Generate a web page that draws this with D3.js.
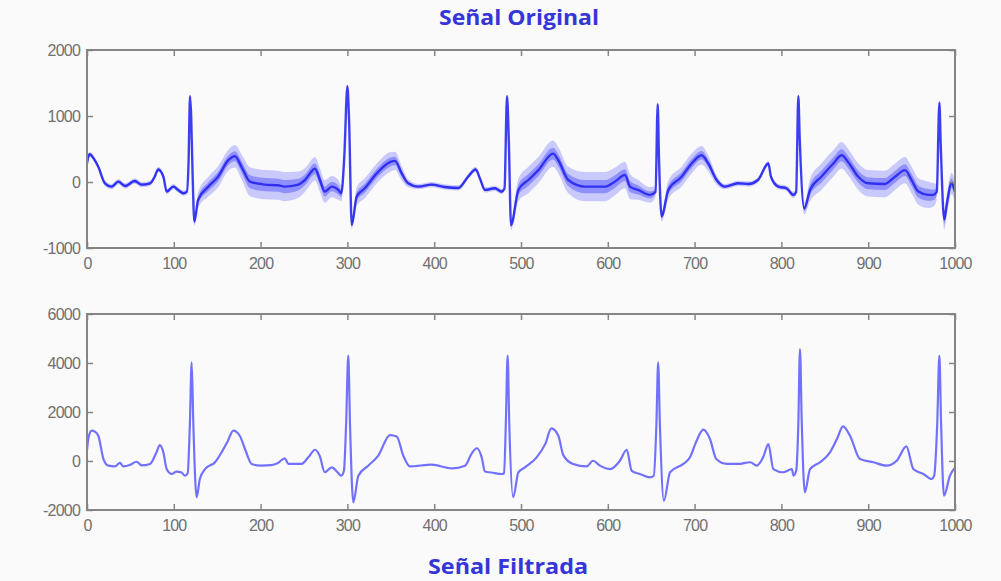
<!DOCTYPE html>
<html>
<head>
<meta charset="utf-8">
<script src="https://cdn.jsdelivr.net/npm/d3@7"></script>
<style>
  body { margin: 0; background: #fafafa; }
  svg { display: block; }
</style>
</head>
<body>
<div id="chart"></div>
<script>
// ---- data ----
var xTicks = [0, 100, 200, 300, 400, 500, 600, 700, 800, 900, 1000];
var topTicks = [-1000, 0, 1000, 2000];
var bottomTicks = [-2000, 0, 2000, 4000, 6000];

// original (noisy) signal: sample index, centre value, half width of the noise band
var origTime = [0, 1.5, 3, 8, 13, 20.7, 28.5, 36, 44, 55, 63, 72.6, 78, 82, 88, 91.8, 99.5, 105, 111, 115,
  117, 118.7, 120, 121.5, 123.7, 128, 139.8, 151, 162.8, 170.5, 178, 187.8, 205, 220, 227.5, 243.4, 251,
  262.7, 268.4, 274, 282, 289.5, 293, 296.4, 300, 302, 305, 310.7, 320, 333.8, 349, 354.8, 362.6, 370,
  381.7, 397, 412, 427.8, 439, 447.8, 452.8, 458.5, 470, 477.7, 481, 483.9, 486, 488.5, 497, 508.4, 520,
  537, 543, 554.5, 573.7, 596.8, 608, 619.8, 625.6, 635, 648.6, 655, 657.5, 659, 662, 669.7, 685, 696.6,
  708, 715.8, 725.4, 735, 750, 762, 773, 785, 788, 796.4, 806, 813.7, 817, 819.5, 821, 826.4, 833, 846,
  859.8, 869.4, 877, 888.6, 900, 919, 930.9, 942.4, 950, 957.8, 969.3, 975, 979, 982, 983.7, 987.6,
  990.4, 996, 1000];
var origValue = [280, 380, 420, 350, 230, -20, -70, 5, -60, 15, -40, -20, 80, 190, 80, -145, -70, -120, -170, -150,
  300, 1300, 1000, 200, -600, -270, -70, 80, 330, 390, 230, 5, -40, -50, -70, -40, 30,
  200, 30, -145, -70, -120, -170, 380, 1450, 900, -650, -220, -95, 130, 300, 320, 130, -20,
  -70, -40, -75, -90, 80, 190, 50, -120, -95, -145, -100, 1300, 600, -650, -120, 30, 180,
  430, 330, 30, -70, -70, 5, 105, -70, -120, -195, -150, 1180, 350, -520, -120, 80, 280,
  405, 280, 30, -70, -20, -30, 30, 280, 80, -70, -95, -195, -150, 1300, 700, -400, -120, 80,
  280, 405, 300, 80, -20, -30, 80, 180, 30, -145, -195, -195, -150, 1200, 500, -570,
  -350, -20, -150];
var origSpread = [40, 40, 40, 40, 40, 40, 40, 40, 40, 40, 40, 40, 40, 40, 40, 40, 40, 40, 40, 40,
  30, 30, 30, 30, 60, 120, 150, 160, 160, 170, 190, 220, 220, 220, 220, 200, 180,
  180, 180, 170, 160, 150, 120, 40, 40, 40, 60, 140, 150, 150, 150, 140, 110, 60,
  40, 40, 40, 40, 40, 40, 40, 40, 40, 40, 30, 30, 30, 80, 170, 200, 200,
  200, 200, 200, 220, 220, 210, 200, 190, 150, 120, 80, 30, 30, 80, 140, 150, 150,
  140, 120, 70, 40, 40, 40, 40, 40, 40, 40, 40, 50, 40, 30, 30, 90, 170, 200,
  200, 200, 200, 200, 200, 200, 200, 200, 200, 200, 200, 180, 120, 40, 60, 150,
  160, 160, 160];

// filtered signal: sample index and value
var filtTime = [0, 2, 5.4, 9, 13, 19, 24.5, 32, 38, 41.9, 50, 57, 63, 72.6, 80, 84, 88, 91.8, 97.6, 103, 109,
  113, 116, 118.5, 120.6, 122.5, 126.3, 130, 136, 147.5, 155, 162, 168.6, 176, 182, 189.7, 201, 212, 220,
  228, 232, 247, 255, 262.7, 268, 274, 282, 288.6, 293, 296, 298.5, 301, 303, 306.8, 312.6, 324, 335.6,
  349, 356.8, 364.4, 372, 397, 420, 435.5, 443, 449, 454.7, 458.5, 466, 477.7, 480.5, 482.5, 484.6, 486.5,
  491, 497, 504.6, 518, 528, 535, 543, 548.7, 560, 575.6, 583, 591, 602.5, 614, 621.8, 627.5, 637, 648.6,
  653, 656, 658, 660, 664.7, 671.7, 687, 694.7, 702, 710, 717.7, 725, 737, 750, 764, 771.5, 779, 785,
  790.7, 802, 812, 814, 817, 819.5, 821.4, 823.5, 827, 833, 844.5, 856, 864, 871, 879, 890.6, 905.9, 921,
  932.8, 944, 952, 963.5, 973, 976, 979.5, 982, 984, 987.3, 994.2, 1000];
var filtValue = [450, 1000, 1240, 1200, 1030, 80, -190, -220, -80, -220, -150, -30, -180, -120, 350, 650, 350, -330, -530, -430, -470,
  -600, -500, 1500, 4030, 1500, -1480, -735, -330, -50, 350, 800, 1240, 1030, 490, -120, -190, -170, -80,
  110, -120, -120, 150, 460, 220, -460, -260, -460, -600, -400, 1500, 4300, 1500, -1690, -600, -190, 220,
  1060, 1000, 220, -220, -150, -300, -190, 290, 520, 150, -430, -470, -530, -500, 1500, 4300, 1500,
  -1480, -460, -260, 150, 700, 1330, 1030, 240, -120, -220, 10, -190, -330, 10, 460, -400, -530, -670,
  -600, 1500, 4030, 1500, -1620, -460, -120, 150, 800, 1280, 900, 80, -120, -120, -50, -190, 150, 690,
  -330, -460, -330, -600, -400, 1500, 4570, 1500, -1280, -330, -50, 350, 900, 1410, 1030, 80, -50, -190,
  10, 600, -330, -530, -735, -600, 1500, 4300, 1500, -1410, -600, -260];

// ---- layout ----
var width = 1001, height = 581;
var svg = d3.select("#chart").append("svg")
  .attr("width", width)
  .attr("height", height)
  .style("background", "#fafafa");

var defs = svg.append("defs");
defs.append("filter").attr("id", "soft")
  .append("feGaussianBlur").attr("stdDeviation", 0.6);

var x = d3.scaleLinear().domain([0, 1000]).range([87, 955]);
var yTop = d3.scaleLinear().domain([-1000, 2000]).range([248, 50]);
var yBot = d3.scaleLinear().domain([-2000, 6000]).range([510, 314]);

var frameColor = "#858585";
var labelColor = "#707070";

function drawFrame(y, yTicks) {
  var g = svg.append("g");
  var y0 = y.range()[0], y1 = y.range()[1];

  g.append("g")
    .attr("transform", "translate(0," + y0 + ")")
    .call(d3.axisBottom(x).tickValues(xTicks).tickSizeInner(-6).tickSizeOuter(0).tickPadding(10)
      .tickFormat(function(d) { return String(d); }));
  g.append("g")
    .attr("transform", "translate(0," + y1 + ")")
    .call(d3.axisTop(x).tickValues(xTicks).tickSizeInner(-6).tickSizeOuter(0).tickFormat(""));
  g.append("g")
    .attr("transform", "translate(" + x.range()[0] + ",0)")
    .call(d3.axisLeft(y).tickValues(yTicks).tickSizeInner(-6).tickSizeOuter(0).tickPadding(7)
      .tickFormat(function(d) { return String(d); }));
  g.append("g")
    .attr("transform", "translate(" + x.range()[1] + ",0)")
    .call(d3.axisRight(y).tickValues(yTicks).tickSizeInner(-6).tickSizeOuter(0).tickFormat(""));

  g.selectAll(".domain").remove();
  g.selectAll(".tick line").attr("stroke", frameColor).attr("stroke-width", 1.5);
  g.selectAll(".tick text")
    .attr("fill", labelColor)
    .style("font-family", "'Liberation Sans', Arial, sans-serif")
    .style("font-size", "16px")
    .style("letter-spacing", "-0.8px");

  g.append("rect")
    .attr("x", x.range()[0])
    .attr("y", y1)
    .attr("width", x.range()[1] - x.range()[0])
    .attr("height", y0 - y1)
    .attr("fill", "none")
    .attr("stroke", frameColor)
    .attr("stroke-width", 2);
}

// original signal: light outer noise band, darker inner band, centre line
var orig = origTime.map(function(t, i) {
  return { t: t, v: origValue[i], s: origSpread[i] };
});

function band(k) {
  return d3.area()
    .x(function(d) { return x(d.t); })
    .y0(function(d) { return yTop(d.v - d.s * k); })
    .y1(function(d) { return yTop(d.v + d.s * k); })
    .curve(d3.curveMonotoneX);
}

svg.append("path")
  .datum(orig)
  .attr("d", band(1))
  .attr("fill", "#8080ff")
  .attr("fill-opacity", 0.4)
  .attr("filter", "url(#soft)");

svg.append("path")
  .datum(orig)
  .attr("d", band(0.45))
  .attr("fill", "#4a4aff")
  .attr("fill-opacity", 0.45)
  .attr("filter", "url(#soft)");

svg.append("path")
  .datum(orig)
  .attr("d", d3.line()
    .x(function(d) { return x(d.t); })
    .y(function(d) { return yTop(d.v); })
    .curve(d3.curveMonotoneX))
  .attr("fill", "none")
  .attr("stroke", "#2222f0")
  .attr("stroke-width", 2.4)
  .attr("stroke-opacity", 0.85)
  .attr("filter", "url(#soft)");

// filtered signal
var filt = filtTime.map(function(t, i) { return { t: t, v: filtValue[i] }; });

svg.append("path")
  .datum(filt)
  .attr("d", d3.line()
    .x(function(d) { return x(d.t); })
    .y(function(d) { return yBot(d.v); })
    .curve(d3.curveMonotoneX))
  .attr("fill", "none")
  .attr("stroke", "#5050ff")
  .attr("stroke-width", 2.2)
  .attr("stroke-opacity", 0.8)
  .attr("filter", "url(#soft)");

drawFrame(yTop, topTicks);
drawFrame(yBot, bottomTicks);

// titles
var titleStyle = function(sel) {
  sel.attr("text-anchor", "middle")
    .attr("fill", "#3535d8")
    .attr("textLength", 160)
    .attr("lengthAdjust", "spacingAndGlyphs")
    .style("font-family", "'Open Sans', 'Noto Sans', sans-serif")
    .style("font-weight", "bold")
    .style("font-size", "21px");
};
svg.append("text").attr("x", 519).attr("y", 25).text("Señal Original").call(titleStyle);
svg.append("text").attr("x", 508).attr("y", 574).text("Señal Filtrada").call(titleStyle);
</script>
</body>
</html>
